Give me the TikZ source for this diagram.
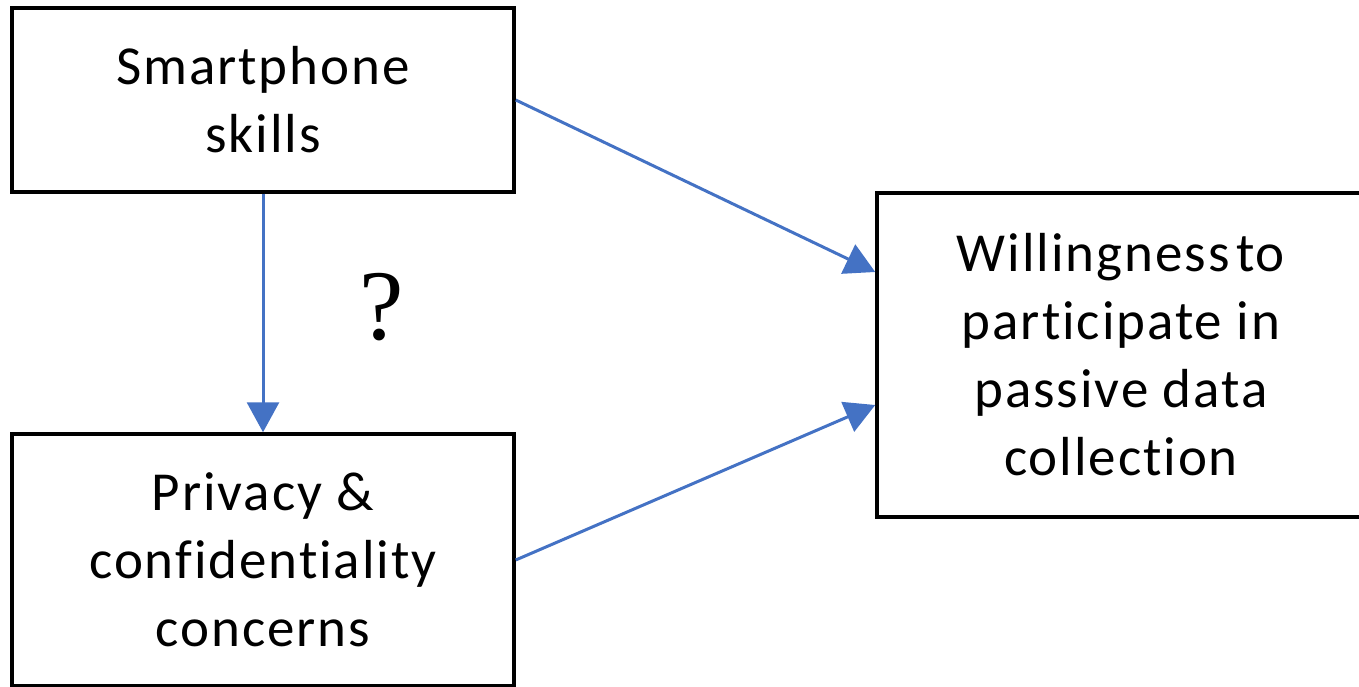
\documentclass[tikz,border=0pt]{standalone}
\usepackage{fontspec}
\setmainfont[Ligatures={NoCommon},LetterSpace=3.5]{Carlito}
\newfontfamily\qfont{Liberation Serif}
\usetikzlibrary{arrows.meta}
\definecolor{arrowblue}{HTML}{4472C4}
\begin{document}
\begin{tikzpicture}[x=1pt,y=-1pt,
  box/.style={draw=black,line width=3.5pt,rectangle,align=center,inner sep=0pt,
    font=\fontsize{55}{68}\selectfont},
  link/.style={draw=arrowblue,line width=3pt,-{Triangle[length=30pt,width=32pt]}}]
\useasboundingbox (0,0) rectangle (1359,687);
\clip (0,0) rectangle (1359,687);
\node[box,minimum width=502pt,minimum height=184pt] (A) at (263,100) {Smartphone\\skills};
\node[box,minimum width=502pt,minimum height=252pt] (B) at (263,560) {Privacy \&\\confidentiality\\concerns};
\node[box,minimum width=488pt,minimum height=324pt] (C) at (1121,355) {Willingness\hspace{0.12em}to\\participate in\\passive data\\collection};
\node[font=\qfont\fontsize{100}{100}\selectfont,inner sep=0pt] (Q) at (382,307) {?};
\draw[link] (A.south) -- (B.north);
\draw[link] (A.east) -- ([yshift=83pt]C.west);
\draw[link] (B.east) -- ([yshift=-50pt]C.west);
\end{tikzpicture}
\end{document}
